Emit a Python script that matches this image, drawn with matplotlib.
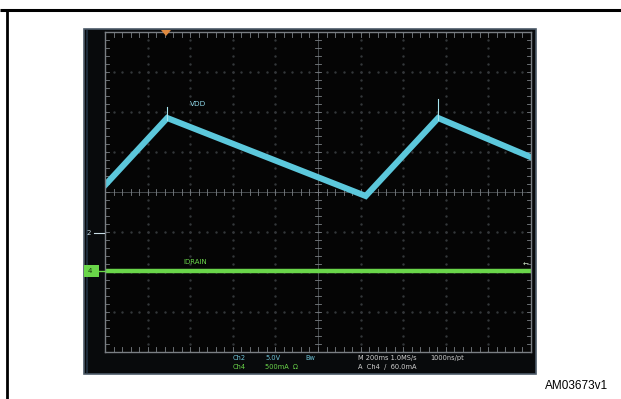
import matplotlib
matplotlib.use("Agg")
import matplotlib.pyplot as plt
from matplotlib.patches import Rectangle, Polygon
import numpy as np

# ---- data (in screen divisions: x 0..10, y -4..4) ----
vdd_t = [0.0, 1.46, 6.12, 7.82, 10.0]
vdd_v = [0.17, 1.85, -0.10, 1.85, 0.87]
spike_t = [1.46, 7.82]
spike_top = [2.12, 2.32]
idrain_t = [0.0, 10.0]
idrain_v = [-1.98, -1.98]

status_row1 = ["Ch2", "5.0V", "Bw", "M 200ms 1.0MS/s", "1000ns/pt"]
status_row2 = ["Ch4", "500mA  Ω", "", "A  Ch4  /  60.0mA", ""]
figure_id = "AM03673v1"

W, H = 621, 399
fig = plt.figure(figsize=(W / 100, H / 100), dpi=100)
fig.patch.set_facecolor("white")

# background axes in pixel coordinates
bg = fig.add_axes([0, 0, 1, 1])
bg.set_xlim(0, W)
bg.set_ylim(H, 0)
bg.axis("off")
bg.plot([0, W], [10, 10], color="black", lw=2.2, solid_capstyle="butt")
bg.plot([7, 7], [10, H], color="black", lw=2.0, solid_capstyle="butt")

# scope screen
bg.add_patch(Rectangle((84, 29), 452, 345, facecolor="#080a0c",
                       edgecolor="#4c5a68", lw=1.2))
bg.plot([87, 87], [31, 372], color="#1c2a38", lw=1.5)

# grid axes
L, R, T, B = 105, 531, 32, 352
ax = fig.add_axes([L / W, 1 - B / H, (R - L) / W, (B - T) / H])
ax.set_facecolor("#050505")
ax.set_xlim(0, 10)
ax.set_ylim(-4, 4)
ax.set_xticks([])
ax.set_yticks([])
for s in ax.spines.values():
    s.set_color("#7a7f84")
    s.set_linewidth(1.0)

gc = "#34373a"
# dotted graticule
for x in range(1, 10):
    if x == 5:
        continue
    ax.plot(np.full(41, x), np.linspace(-4, 4, 41), ls="none", marker="s",
            ms=0.7, color=gc)
for y in range(-3, 4):
    if y == 0:
        continue
    ax.plot(np.linspace(0, 10, 51), np.full(51, y), ls="none", marker="s",
            ms=0.7, color=gc)
# center lines with ticks
tc = "#7a7f84"
ax.axvline(5, color="#505458", lw=0.6)
ax.axhline(0, color="#505458", lw=0.6)
for x in np.arange(0, 10.01, 0.2):
    ax.plot([x, x], [-0.07, 0.07], color=tc, lw=0.6)
    ax.plot([x, x], [4, 3.88], color=tc, lw=0.6)
    ax.plot([x, x], [-4, -3.88], color=tc, lw=0.6)
for y in np.arange(-4, 4.01, 0.2):
    ax.plot([4.93, 5.07], [y, y], color=tc, lw=0.6)
    ax.plot([0, 0.1], [y, y], color=tc, lw=0.6)
    ax.plot([10, 9.9], [y, y], color=tc, lw=0.6)

# traces
ax.plot(idrain_t, idrain_v, color="#6ad64a", lw=3.2, solid_capstyle="butt")
ax.plot(vdd_t, vdd_v, color="#5cc8dc", lw=4.4, solid_joinstyle="miter")
for t, top in zip(spike_t, spike_top):
    ax.plot([t, t], [1.8, top], color="#a8e6f0", lw=0.8)

ax.text(2.0, 2.2, "VDD", color="#8fd8e8", fontsize=5.2, va="center")
ax.text(1.85, -1.75, "IDRAIN", color="#6ad64a", fontsize=5.0, va="center")

# top overlay in pixel coordinates
ov = fig.add_axes([0, 0, 1, 1])
ov.set_xlim(0, W)
ov.set_ylim(H, 0)
ov.axis("off")
ov.patch.set_alpha(0)

# channel markers (left)
ov.add_patch(Rectangle((84, 265), 15, 12, facecolor="#6ad64a", edgecolor="none"))
ov.text(90, 271, "4", color="#1a3a10", fontsize=5, ha="center", va="center")
ov.plot([99, 105], [271, 271], color="#6ad64a", lw=1)
ov.text(89, 233, "2", color="#c8dde6", fontsize=5, ha="center", va="center")
ov.plot([94, 104], [233, 233], color="#c8dde6", lw=0.8)
# trigger marker
ov.add_patch(Polygon([[161, 30], [171, 30], [166, 36]], closed=True,
                     facecolor="#e08a40", edgecolor="none"))
ov.text(526, 265, "\u2190", color="#cfe8c8", fontsize=5, ha="center", va="center")

# status text
xs = [233, 265, 305, 358, 430]
cols1 = ["#6fc4d8", "#6fc4d8", "#6fc4d8", "#d0d0d0", "#d0d0d0"]
cols2 = ["#6ad64a", "#6ad64a", "#6ad64a", "#d0d0d0", "#d0d0d0"]
for x, t, c in zip(xs, status_row1, cols1):
    ov.text(x, 358, t, color=c, fontsize=4.8, va="center")
for x, t, c in zip(xs, status_row2, cols2):
    if t:
        ov.text(x, 367, t, color=c, fontsize=4.8, va="center")

ov.text(608, 386, figure_id, color="black", fontsize=8.5, ha="right",
        va="center", family="Liberation Sans")

fig.savefig("out.png", dpi=100, facecolor="white")
